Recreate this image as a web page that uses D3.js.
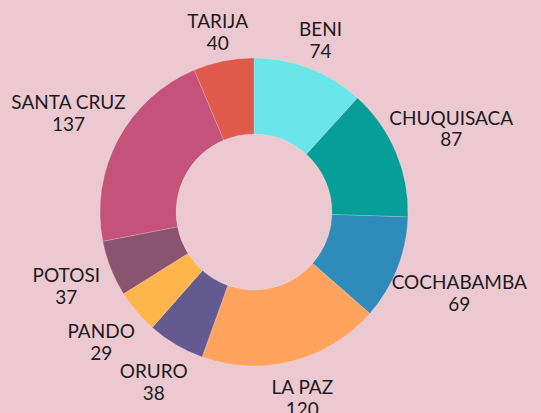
<!DOCTYPE html>
<html>
<head>
<meta charset="utf-8">
<script src="https://cdn.jsdelivr.net/npm/d3@7"></script>
<style>
  html, body { margin: 0; padding: 0; background: #ecc9d1; }
  svg { display: block; }
</style>
</head>
<body>
<svg width="541" height="413"></svg>
<script>
var departments = ["BENI", "CHUQUISACA", "COCHABAMBA", "LA PAZ", "ORURO", "PANDO", "POTOSI", "SANTA CRUZ", "TARIJA"];
var counts = [74, 87, 69, 120, 38, 29, 37, 137, 40];
var sliceColors = ["#6ae5e8", "#069e97", "#2e8bba", "#ffa35f", "#635a90", "#feb64c", "#8a5470", "#c4527a", "#e05a4b"];

var svg = d3.select("svg");
var cx = 254, cy = 212,
    outer = 154, inner = 78;

var data = departments.map(function(d, i) { return {name: d, value: counts[i]}; });

var color = d3.scaleOrdinal().domain(departments).range(sliceColors);

var pie = d3.pie()
    .sort(null)
    .value(function(d) { return d.value; });

var arc = d3.arc()
    .innerRadius(inner)
    .outerRadius(outer);

var g = svg.append("g")
    .attr("transform", "translate(" + cx + "," + cy + ")");

var arcs = pie(data);

g.selectAll("path")
    .data(arcs)
    .enter().append("path")
    .attr("d", arc)
    .style("fill", function(d) { return color(d.data.name); })
    .style("stroke", "rgba(255,255,255,0.35)")
    .style("stroke-width", 0.5);

// labels: name on first line, value on second
var labels = g.selectAll(".label")
    .data(arcs)
    .enter().append("text")
    .attr("class", "label")
    .attr("text-anchor", "middle")
    .style("font-family", "Lato, 'Open Sans', sans-serif")
    .style("font-size", "19px")
    .style("fill", "#1e1a1c");

labels.append("tspan")
    .attr("x", 0)
    .attr("dy", "-0.2em")
    .text(function(d) { return d.data.name; });
labels.append("tspan")
    .attr("x", 0)
    .attr("dy", "1.15em")
    .text(function(d) { return d.data.value; });

labels.attr("transform", function(d) {
    var a = (d.startAngle + d.endAngle) / 2;
    var w = this.getBBox().width;
    var r = 180 + 0.6 * Math.abs(Math.sin(a)) * w / 2 + 8 * Math.max(0, -Math.cos(a));
    var x = r * Math.sin(a), y = -r * Math.cos(a);
    return "translate(" + x + "," + y + ")";
});
</script>
</body>
</html>
